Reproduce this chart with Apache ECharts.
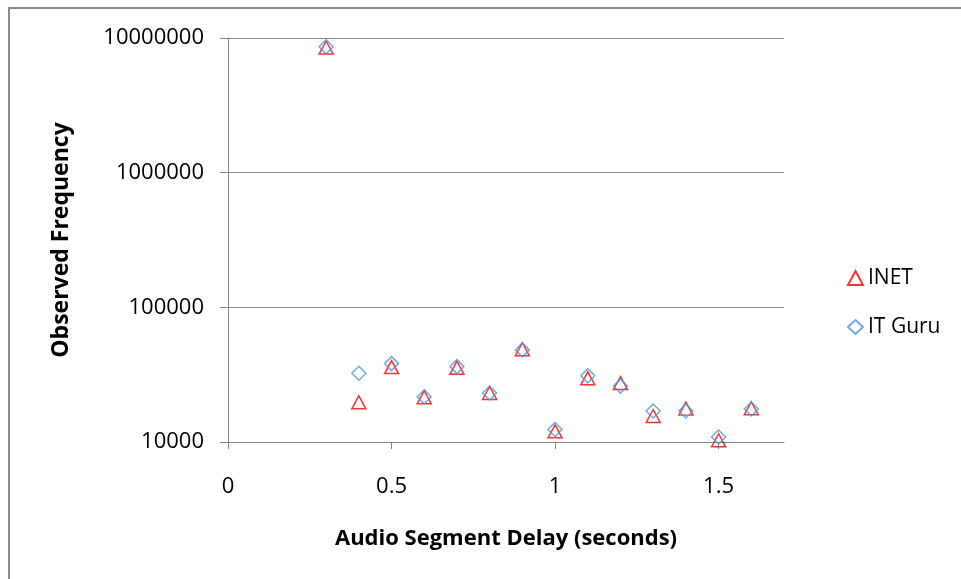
<!DOCTYPE html>
<html>
<head>
<meta charset="utf-8">
<script src="https://cdn.jsdelivr.net/npm/echarts@6/dist/echarts.min.js"></script>
<style>
html,body{margin:0;padding:0;background:#fff;}
#chart{width:961px;height:579px;}
</style>
</head>
<body>
<div id="chart"></div>
<script>
const delays = [0.3, 0.4, 0.5, 0.6, 0.7, 0.8, 0.9, 1.0, 1.1, 1.2, 1.3, 1.4, 1.5, 1.6];
const inetFreq = [8500000, 19700, 36000, 21500, 35600, 23100, 48800, 12000, 29700, 27400, 15600, 17700, 10300, 17800];
const itGuruFreq = [8600000, 32400, 38200, 21700, 36300, 23100, 48300, 12400, 31000, 26000, 17000, 17000, 10900, 17600];
const xTicks = [0, 0.5, 1, 1.5];
const seriesNames = ['INET', 'IT Guru'];
const xTitle = 'Audio Segment Delay (seconds)';
const yTitle = 'Observed Frequency';

const FONT = '"Open Sans", "Liberation Sans", sans-serif';
const gray = '#868686';

const chart = echarts.init(document.getElementById('chart'), null, {renderer: 'canvas'});
chart.setOption({
  backgroundColor: '#fff',
  animation: false,
  textStyle: {fontFamily: FONT},
  graphic: [{
    type: 'rect',
    shape: {x: 9, y: 8, width: 2000, height: 2000},
    style: {fill: 'none', stroke: '#8a8a8a', lineWidth: 2},
    silent: true
  }],
  grid: {left: 228, right: 177, top: 38, bottom: 137, containLabel: false},
  legend: {
    orient: 'vertical',
    left: 842,
    top: 262,
    itemWidth: 15,
    itemHeight: 14,
    itemGap: 27,
    data: seriesNames,
    textStyle: {fontFamily: FONT, fontSize: 21, color: '#000', lineHeight: 22}
  },
  xAxis: {
    type: 'value',
    min: 0,
    max: 1.7,
    interval: 0.5,
    name: xTitle,
    nameLocation: 'middle',
    nameGap: 86,
    nameTextStyle: {fontFamily: FONT, fontSize: 22, fontWeight: 'bold', color: '#000'},
    axisLine: {show: true, onZero: false, lineStyle: {color: gray, width: 1}},
    axisTick: {show: true, length: 7, customValues: xTicks, lineStyle: {color: gray}},
    axisLabel: {
      customValues: xTicks,
      margin: 34,
      fontFamily: FONT, fontSize: 22, color: '#000',
      formatter: v => String(v)
    },
    splitLine: {show: false}
  },
  yAxis: {
    type: 'log',
    logBase: 10,
    min: 10000,
    max: 10000000,
    name: yTitle,
    nameLocation: 'middle',
    nameGap: 155,
    nameRotate: 90,
    nameTextStyle: {fontFamily: FONT, fontSize: 23, fontWeight: 'bold', color: '#000'},
    axisLine: {show: true, lineStyle: {color: gray, width: 1}},
    axisTick: {show: true, length: 8, lineStyle: {color: gray}},
    axisLabel: {
      margin: 24,
      fontFamily: FONT, fontSize: 22, color: '#000',
      formatter: v => String(Math.round(v))
    },
    splitLine: {show: true, lineStyle: {color: gray, width: 1}},
    minorTick: {show: false},
    minorSplitLine: {show: false}
  },
  series: [
    {
      name: seriesNames[0],
      type: 'scatter',
      symbol: 'triangle',
      symbolSize: [14, 13],
      itemStyle: {color: 'rgba(255,255,255,0)', borderColor: '#ff0000', borderWidth: 1.5},
      data: delays.map((d, i) => [d, inetFreq[i]])
    },
    {
      name: seriesNames[1],
      type: 'scatter',
      symbol: 'diamond',
      symbolSize: [14, 14],
      itemStyle: {color: 'rgba(255,255,255,0)', borderColor: '#4a96dc', borderWidth: 1.5},
      data: delays.map((d, i) => [d, itGuruFreq[i]])
    }
  ]
});
</script>
</body>
</html>
